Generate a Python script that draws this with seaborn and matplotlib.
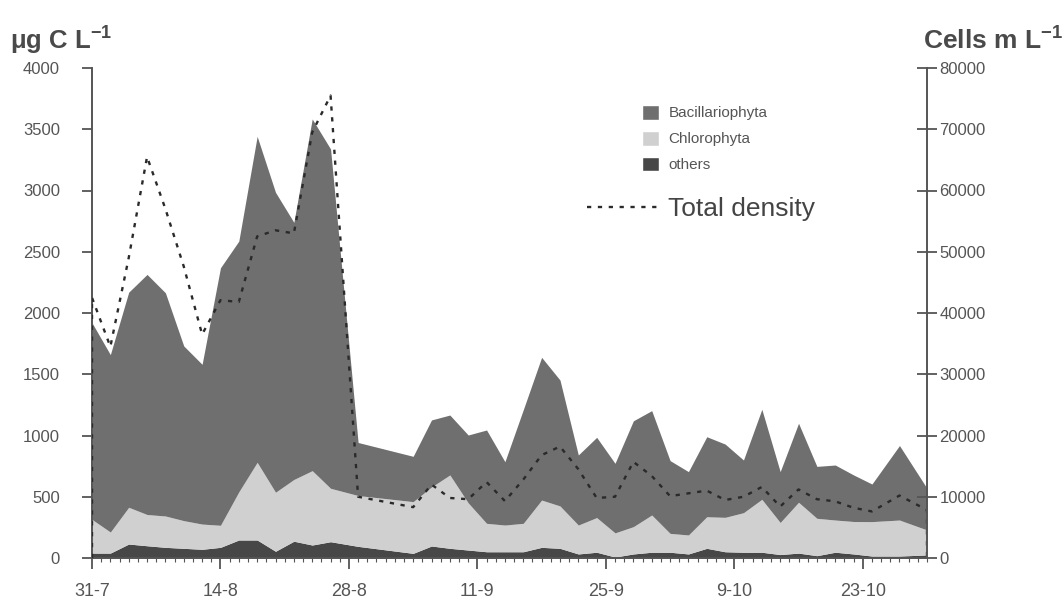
import numpy as np
import pandas as pd
import matplotlib
matplotlib.use("Agg")
import matplotlib.pyplot as plt
import seaborn as sns
from matplotlib.ticker import FixedLocator, MultipleLocator
from matplotlib.patches import Patch
from matplotlib.lines import Line2D

# ---- data (days after 31-7) ----
days = [0, 2, 4, 6, 8, 10, 12, 14, 16, 18, 20, 22, 24, 26, 29, 35, 37, 39, 41, 43, 45, 47,
        49, 51, 53, 55, 57, 59, 61, 63, 65, 67, 69, 71, 73, 75, 77, 79, 81, 83, 85, 88, 91]

# biomass, ug C / L
bacillariophyta = [1605, 1448, 1756, 1960, 1822, 1426, 1304, 2102, 2047, 2661, 2448, 2099, 2871, 2770,
                   433, 370, 547, 489, 554, 762, 517, 927, 1165, 1028, 572, 655, 568, 864, 852, 594,
                   517, 653, 598, 430, 735, 415, 645, 424, 449, 380, 307, 608, 340]
chlorophyta = [275, 172, 300, 255, 256, 226, 206, 180, 393, 634, 482, 504, 607, 436,
               415, 422, 482, 599, 385, 232, 218, 232, 386, 346, 236, 283, 197, 223, 304, 154,
               155, 258, 281, 323, 432, 262, 415, 305, 263, 265, 281, 294, 204]
others = [40, 40, 114, 100, 87, 79, 71, 87, 147, 147, 55, 137, 106, 133,
          95, 38, 98, 79, 65, 51, 51, 51, 87, 79, 33, 47, 8, 33, 47, 47,
          33, 79, 51, 47, 47, 28, 40, 19, 47, 33, 16, 16, 25]

# total cell density, cells / mL
total_density = [42500, 34500, 49000, 65500, 57000, 47600, 36500, 42100, 41800, 52500, 53500, 53000,
                 69500, 75500, 10000, 8300, 12000, 9800, 9600, 12400, 9300, 12800, 16800, 18200,
                 14500, 9800, 10000, 15700, 13400, 10100, 10560, 11000, 9470, 10000, 11600, 8400,
                 11200, 9600, 9250, 8200, 7600, 10200, 7840]

tick_days = [0, 14, 28, 42, 56, 70, 84]
tick_labels = ["31-7", "14-8", "28-8", "11-9", "25-9", "9-10", "23-10"]

# ---- style ----
sns.set_style("ticks")
plt.rcParams["font.family"] = ["Liberation Sans", "DejaVu Sans"]
plt.rcParams["mathtext.default"] = "regular"

col_bac = "#6f6f6f"
col_chl = "#d0d0d0"
col_oth = "#474747"
txt = "#555555"
axc = "#555555"
dot = (0, (1.8, 2.8))

fig = plt.figure(figsize=(10.62, 6.03), dpi=100)
ax = fig.add_axes([92 / 1062, 1 - 558 / 603, (927 - 92) / 1062, (558 - 68) / 603])

ax.stackplot(days, others, chlorophyta, bacillariophyta,
             colors=[col_oth, col_chl, col_bac], linewidth=0)
ax.set_xlim(days[0], days[-1])
ax.set_ylim(0, 4000)
ax.set_yticks(np.arange(0, 4001, 500))
ax.xaxis.set_major_locator(FixedLocator(tick_days))
ax.set_xticklabels(tick_labels)
ax.xaxis.set_minor_locator(MultipleLocator(1))

ax2 = ax.twinx()
dens = pd.DataFrame({
    "day": [days[0]] + days + [days[-1]],
    "cells": [0] + total_density + [0],
})
sns.lineplot(data=dens, x="day", y="cells", ax=ax2, sort=False, estimator=None,
             color="#2a2a2a", linewidth=1.7, linestyle=dot)
ax2.set_ylim(0, 80000)
ax2.set_yticks(np.arange(0, 80001, 10000))
ax2.set_xlabel("")
ax2.set_ylabel("")
ax.set_xlabel("")
ax.set_ylabel("")

for a in (ax, ax2):
    a.spines["top"].set_visible(False)
    for s in ("left", "right", "bottom"):
        a.spines[s].set_color(axc)
        a.spines[s].set_linewidth(1.4)
ax.spines["right"].set_visible(False)
ax2.spines["left"].set_visible(False)
ax2.spines["bottom"].set_visible(False)

ax.tick_params(axis="y", direction="out", length=7, width=1.3, color=axc,
               labelsize=12, labelcolor=txt, pad=16)
ax.tick_params(axis="x", which="major", direction="out", length=8, width=1.3, color=axc,
               labelsize=13, labelcolor=txt, pad=10)
ax.tick_params(axis="x", which="minor", direction="out", length=3, width=0.8, color=axc)
ax2.tick_params(axis="y", direction="inout", length=14, width=1.3, color=axc,
                labelsize=12, labelcolor=txt, pad=2)

# axis titles
fig.text(0.009, 0.917, "μg C L$^{-1}$", fontsize=18.5, fontweight="bold", color="#4a4a4a",
         va="baseline")
fig.text(0.869, 0.917, "Cells m L$^{-1}$", fontsize=19, fontweight="bold", color="#4a4a4a",
         va="baseline")

# legends
h1 = [Patch(facecolor=col_bac, label="Bacillariophyta"),
      Patch(facecolor=col_chl, label="Chlorophyta"),
      Patch(facecolor=col_oth, label="others")]
fig.legend(handles=h1, loc="upper left", bbox_to_anchor=(0.6045, 0.826),
           frameon=False, fontsize=11, handlelength=1.1, handleheight=1.1,
           handletextpad=0.65, labelspacing=0.68, borderpad=0, borderaxespad=0,
           labelcolor=txt)
h2 = [Line2D([0], [0], color="#2a2a2a", linewidth=1.7, linestyle=dot,
             label="Total density")]
fig.legend(handles=h2, loc="upper left", bbox_to_anchor=(0.5527, 0.673),
           frameon=False, fontsize=19, handlelength=2.84, handletextpad=0.23,
           borderpad=0, borderaxespad=0, labelcolor="#444444")

fig.savefig("out.png", dpi=100, facecolor="white")
